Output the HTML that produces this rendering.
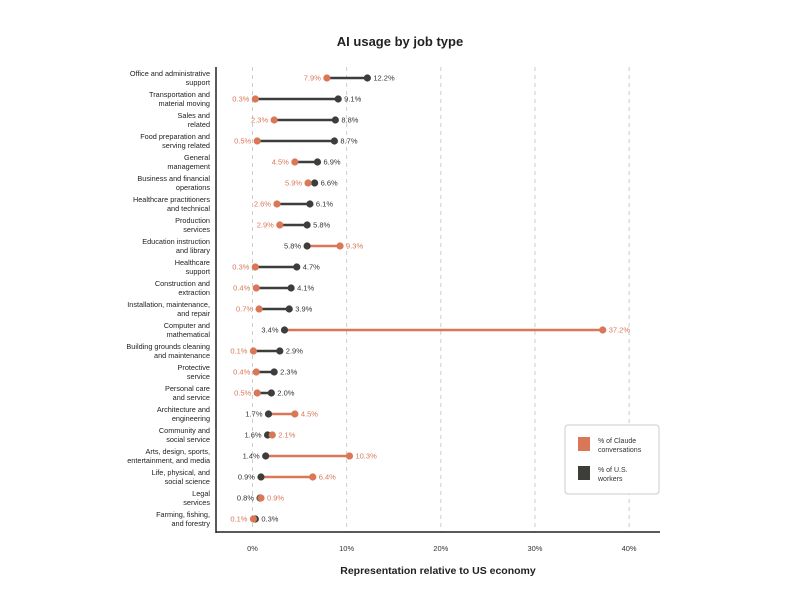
<!DOCTYPE html>
<html><head><meta charset="utf-8"><style>
body{margin:0;background:#fff;}
svg{display:block;font-family:"Liberation Sans",sans-serif;}
</style></head><body>
<svg id="s" width="800" height="601" viewBox="0 0 800 601" xmlns="http://www.w3.org/2000/svg">
<text x="400" y="46" text-anchor="middle" font-size="13" font-weight="bold" fill="#222">AI usage by job type</text>
<g id="grid"></g>
<line x1="216" y1="67" x2="216" y2="533" stroke="#222" stroke-width="1.5"/>
<line x1="216" y1="532" x2="660" y2="532" stroke="#222" stroke-width="1.5"/>
<g id="data"></g>
<text x="438" y="574" text-anchor="middle" font-size="10.5" font-weight="bold" fill="#222">Representation relative to US economy</text>
<rect x="565" y="425" width="94" height="69" rx="3" fill="#fff" stroke="#ccc"/>
<rect x="578" y="437" width="12" height="14" fill="#d97757"/>
<text x="598" y="443" font-size="7" fill="#333">% of Claude</text>
<text x="598" y="452" font-size="7" fill="#333">conversations</text>
<rect x="578" y="466" width="12" height="14" fill="#3d3d3a"/>
<text x="598" y="472" font-size="7" fill="#333">% of U.S.</text>
<text x="598" y="481" font-size="7" fill="#333">workers</text>
</svg>
<script>
var rows=[["Office and administrative","support",7.9,12.2],["Transportation and","material moving",0.3,9.1],["Sales and","related",2.3,8.8],["Food preparation and","serving related",0.5,8.7],["General","management",4.5,6.9],["Business and financial","operations",5.9,6.6],["Healthcare practitioners","and technical",2.6,6.1],["Production","services",2.9,5.8],["Education instruction","and library",9.3,5.8],["Healthcare","support",0.3,4.7],["Construction and","extraction",0.4,4.1],["Installation, maintenance,","and repair",0.7,3.9],["Computer and","mathematical",37.2,3.4],["Building grounds cleaning","and maintenance",0.1,2.9],["Protective","service",0.4,2.3],["Personal care","and service",0.5,2.0],["Architecture and","engineering",4.5,1.7],["Community and","social service",2.1,1.6],["Arts, design, sports,","entertainment, and media",10.3,1.4],["Life, physical, and","social science",6.4,0.9],["Legal","services",0.9,0.8],["Farming, fishing,","and forestry",0.1,0.3]];
var ns="http://www.w3.org/2000/svg";
function el(p,t,a,txt){var e=document.createElementNS(ns,t);for(var k in a)e.setAttribute(k,a[k]);if(txt!=null)e.textContent=txt;p.appendChild(e);return e;}
var g=document.getElementById('grid'),d=document.getElementById('data');
function X(v){return 252.5+v*9.415;}
for(var i=0;i<=4;i++){var x=X(i*10);el(g,'line',{x1:x,y1:67,x2:x,y2:532,stroke:'#ccc','stroke-dasharray':'4,4','stroke-width':1});el(g,'text',{x:x,y:551,'text-anchor':'middle','font-size':7.5,fill:'#333'},(i*10)+'%');}
var O='#d97757',K='#3d3d3a';
rows.forEach(function(r,i){var y=78+i*21;
el(d,'text',{x:210,y:y-2,'text-anchor':'end','font-size':7.3,fill:'#222'},r[0]);
el(d,'text',{x:210,y:y+7,'text-anchor':'end','font-size':7.3,fill:'#222'},r[1]);
var c=r[2],w=r[3],xc=X(c),xw=X(w);
el(d,'line',{x1:xc,y1:y,x2:xw,y2:y,stroke:c>w?O:K,'stroke-width':2.5});
el(d,'circle',{cx:xw,cy:y,r:3.6,fill:K});
el(d,'circle',{cx:xc,cy:y,r:3.6,fill:O});
var cl=c<w;
el(d,'text',{x:cl?xc-6:xc+6,y:y+2.7,'text-anchor':cl?'end':'start','font-size':7.5,fill:O},c.toFixed(1)+'%');
el(d,'text',{x:cl?xw+6:xw-6,y:y+2.7,'text-anchor':cl?'start':'end','font-size':7.5,fill:'#333'},w.toFixed(1)+'%');
});
</script>
</body></html>
